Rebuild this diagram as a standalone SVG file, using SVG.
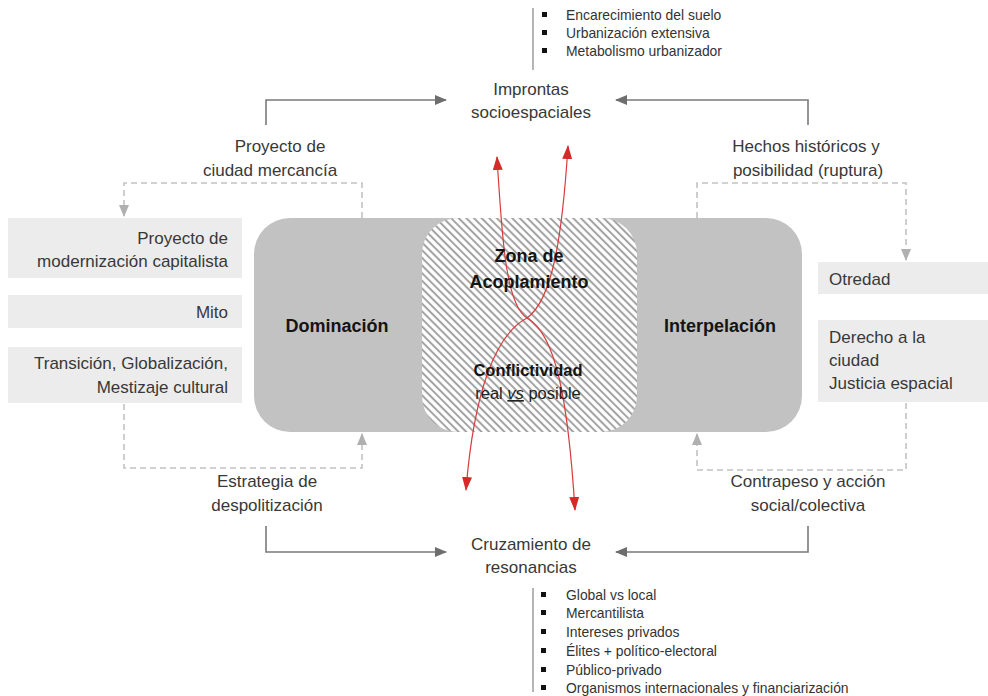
<svg xmlns="http://www.w3.org/2000/svg" width="988" height="696" viewBox="0 0 988 696">
<style>
.lbl{font-family:"Liberation Sans",Arial,sans-serif;font-size:17px;fill:#383838;}
.mid{text-anchor:middle;}
.end{text-anchor:end;}
.bold{font-family:"Liberation Sans",Arial,sans-serif;font-size:18px;font-weight:bold;fill:#141414;text-anchor:middle;}
.li{font-family:"Liberation Sans",Arial,sans-serif;font-size:13.9px;fill:#333;}
.box{fill:#ececec;}
.solid{fill:none;stroke:#7a7a7a;stroke-width:1.6;}
.dash{fill:none;stroke:#c2c2c2;stroke-width:1.6;stroke-dasharray:6 4;}
.red{fill:none;stroke:#d83c3c;stroke-width:1.2;}
.bullet{fill:#111;}
.vline{stroke:#b5b5b5;stroke-width:2;}
</style>
<defs>
<pattern id="hatch" width="5.4" height="8" patternUnits="userSpaceOnUse" patternTransform="rotate(-45)">
<rect width="5.4" height="8" fill="#ffffff"/>
<line x1="2.7" y1="0" x2="2.7" y2="8" stroke="#a2a2a2" stroke-width="2"/>
</pattern>
<marker id="ag" viewBox="0 0 12 10" refX="11" refY="5" markerWidth="12" markerHeight="10" markerUnits="userSpaceOnUse" orient="auto">
<path d="M0,0 L12,5 L0,10 Z" fill="#6e6e6e"/>
</marker>
<marker id="al" viewBox="0 0 12 10" refX="11" refY="5" markerWidth="12" markerHeight="10" markerUnits="userSpaceOnUse" orient="auto">
<path d="M0,0 L12,5 L0,10 Z" fill="#b0b0b0"/>
</marker>
<marker id="ar" viewBox="0 0 14 10" refX="13" refY="5" markerWidth="14" markerHeight="10" markerUnits="userSpaceOnUse" orient="auto-start-reverse">
<path d="M0,0 L14,5 L0,10 Z" fill="#d42a2a"/>
</marker>
</defs>
<rect width="988" height="696" fill="#ffffff"/>

<g id="central">
<rect x="254" y="218" width="250" height="214" rx="36" fill="#c2c2c2"/>
<rect x="560" y="218" width="242" height="214" rx="36" fill="#c2c2c2"/>
<rect x="422" y="218" width="215" height="214" rx="36" fill="url(#hatch)"/>
</g>

<g id="connectors">
<path class="solid" d="M266,125 V100 H446" marker-end="url(#ag)"/>
<path class="solid" d="M808,125 V100 H616" marker-end="url(#ag)"/>
<path class="solid" d="M266,526 V552 H446" marker-end="url(#ag)"/>
<path class="solid" d="M808,526 V552 H616" marker-end="url(#ag)"/>
<path class="dash" d="M362,218 V183 H124 V216" marker-end="url(#al)"/>
<path class="dash" d="M124,404 V468 H362 V434" marker-end="url(#al)"/>
<path class="dash" d="M697,218 V183 H906 V260" marker-end="url(#al)"/>
<path class="dash" d="M906,403 V470 H697 V434" marker-end="url(#al)"/>
<path class="red" d="M497,157 C502,240 506,305 527,318 C556,334 568,400 575,510" marker-start="url(#ar)" marker-end="url(#ar)"/>
<path class="red" d="M568,146 C562,240 552,300 527,318 C496,334 474,390 466,490" marker-start="url(#ar)" marker-end="url(#ar)"/>
<line class="vline" x1="533" y1="8" x2="533" y2="70"/>
<line class="vline" x1="533" y1="588" x2="533" y2="692"/>
</g>

<g id="list-top">
<rect class="bullet" x="542" y="12" width="5" height="5"/>
<rect class="bullet" x="542" y="30" width="5" height="5"/>
<rect class="bullet" x="542" y="48" width="5" height="5"/>
<text class="li" x="566" y="20">Encarecimiento del suelo</text>
<text class="li" x="566" y="38">Urbanización extensiva</text>
<text class="li" x="566" y="56">Metabolismo urbanizador</text>
</g>

<g id="improntas">
<text class="lbl mid" x="531" y="95">Improntas</text>
<text class="lbl mid" x="531" y="118">socioespaciales</text>
</g>

<g id="proyecto-ciudad">
<text class="lbl mid" x="280" y="152">Proyecto de</text>
<text class="lbl mid" x="270" y="176">ciudad mercancía</text>
</g>

<g id="hechos">
<text class="lbl mid" x="806" y="152">Hechos históricos y</text>
<text class="lbl mid" x="808" y="176">posibilidad (ruptura)</text>
</g>

<g id="box-modernizacion">
<rect class="box" x="8" y="218" width="234" height="60"/>
<text class="lbl end" x="228" y="244">Proyecto de</text>
<text class="lbl end" x="228" y="267">modernización capitalista</text>
</g>
<g id="box-mito">
<rect class="box" x="8" y="295" width="234" height="33"/>
<text class="lbl end" x="228" y="318">Mito</text>
</g>
<g id="box-transicion">
<rect class="box" x="8" y="347" width="234" height="56"/>
<text class="lbl end" x="228" y="369">Transición, Globalización,</text>
<text class="lbl end" x="228" y="393">Mestizaje cultural</text>
</g>

<g id="box-otredad">
<rect class="box" x="818" y="262" width="170" height="32"/>
<text class="lbl" x="829" y="285">Otredad</text>
</g>
<g id="box-derecho">
<rect class="box" x="818" y="320" width="170" height="82"/>
<text class="lbl" x="829" y="343">Derecho a la</text>
<text class="lbl" x="829" y="366">ciudad</text>
<text class="lbl" x="829" y="389">Justicia espacial</text>
</g>

<g id="dominacion">
<text class="bold" x="337" y="332">Dominación</text>
</g>
<g id="interpelacion">
<text class="bold" x="720" y="332">Interpelación</text>
</g>
<g id="zona">
<text class="bold" x="529" y="262">Zona de</text>
<text class="bold" x="529" y="288">Acoplamiento</text>
<text class="bold" x="528" y="376" style="font-size:16.5px">Conflictividad</text>
<text class="lbl mid" x="528" y="399" style="font-size:16.5px;fill:#222">real <tspan style="font-style:italic;text-decoration:underline">vs</tspan> posible</text>
</g>

<g id="estrategia">
<text class="lbl mid" x="267" y="487">Estrategia de</text>
<text class="lbl mid" x="267" y="511">despolitización</text>
</g>
<g id="contrapeso">
<text class="lbl mid" x="808" y="487">Contrapeso y acción</text>
<text class="lbl mid" x="808" y="511">social/colectiva</text>
</g>

<g id="cruzamiento">
<text class="lbl mid" x="531" y="550">Cruzamiento de</text>
<text class="lbl mid" x="531" y="573">resonancias</text>
</g>

<g id="list-bottom">
<rect class="bullet" x="541" y="592" width="5" height="5"/>
<rect class="bullet" x="541" y="610" width="5" height="5"/>
<rect class="bullet" x="541" y="629" width="5" height="5"/>
<rect class="bullet" x="541" y="648" width="5" height="5"/>
<rect class="bullet" x="541" y="667" width="5" height="5"/>
<rect class="bullet" x="541" y="685" width="5" height="5"/>
<text class="li" x="566" y="600">Global vs local</text>
<text class="li" x="566" y="618">Mercantilista</text>
<text class="li" x="566" y="637">Intereses privados</text>
<text class="li" x="566" y="656">Élites + político-electoral</text>
<text class="li" x="566" y="675">Público-privado</text>
<text class="li" x="566" y="693">Organismos internacionales y financiarización</text>
</g>
</svg>
